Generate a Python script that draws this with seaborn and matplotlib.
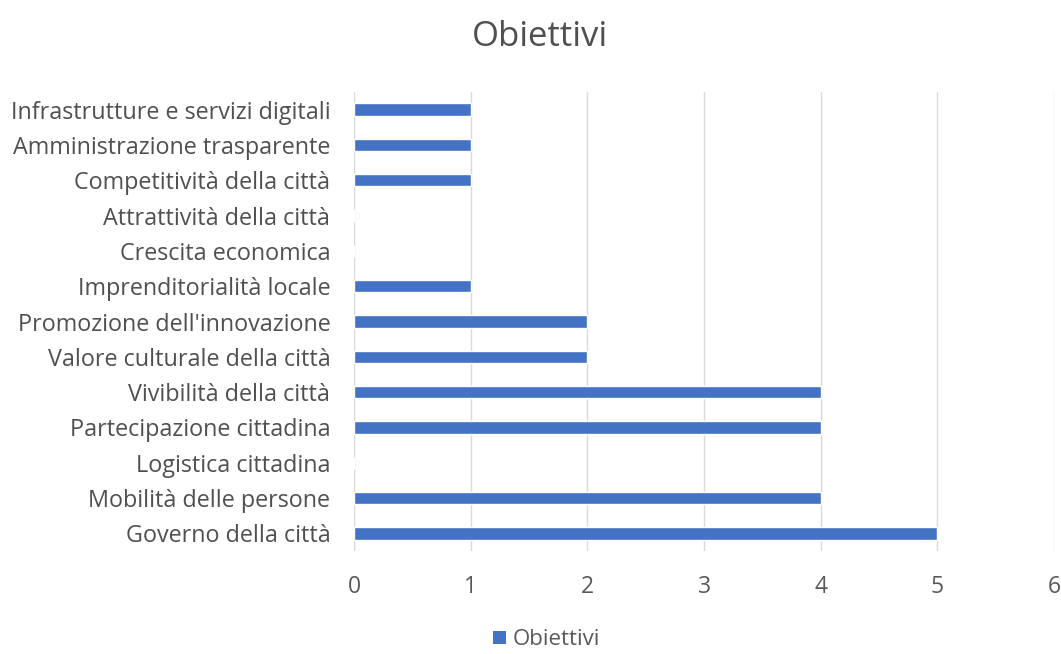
import matplotlib
matplotlib.use("Agg")
import matplotlib.pyplot as plt
import seaborn as sns
import pandas as pd
from matplotlib.patches import Patch

categories = [
    "Infrastrutture e servizi digitali",
    "Amministrazione trasparente",
    "Competitività della città",
    "Attrattività della città",
    "Crescita economica",
    "Imprenditorialità locale",
    "Promozione dell'innovazione",
    "Valore culturale della città",
    "Vivibilità della città",
    "Partecipazione cittadina",
    "Logistica cittadina",
    "Mobilità delle persone",
    "Governo della città",
]
values = [1, 1, 1, 0, 0, 1, 2, 2, 4, 4, 0, 4, 5]
xticks = [0, 1, 2, 3, 4, 5, 6]
series_name = "Obiettivi"

sns.set_theme(style="white")
plt.rcParams['font.family'] = ['Open Sans', 'DejaVu Sans']

df = pd.DataFrame({"cat": categories, "val": values})

fig = plt.figure(figsize=(10.61, 6.54), dpi=100)
ax = fig.add_axes([0.3336, 0.1575, 0.66, 0.7018])
color = "#4472C4"
sns.barplot(data=df, x="val", y="cat", order=categories, color=color,
            width=0.35, ax=ax, saturation=1)

ax.set_xlim(0, 6)
ax.set_ylim(12.5, -0.5)
ax.set_xticks(xticks)
ax.grid(axis="x", color="#D9D9D9", linewidth=1)
ax.set_axisbelow(True)
for s in ax.spines.values():
    s.set_visible(False)
ax.set_xlabel("")
ax.set_ylabel("")
ax.tick_params(axis="x", length=0, pad=17, labelsize=16.5, labelcolor="#595959")
ax.tick_params(axis="y", length=0, pad=17, labelsize=16.8, labelcolor="#505050")

fig.suptitle(series_name, x=0.509, y=0.97, fontsize=25, color="#505050")

handles = [Patch(facecolor=color, edgecolor="none", label=series_name)]
fig.legend(handles=handles, loc="center", bbox_to_anchor=(0.515, 0.022),
           frameon=False, fontsize=16, labelcolor="#595959",
           handlelength=0.55, handleheight=0.55, handletextpad=0.3,
           borderpad=0.1)

fig.savefig("out.png", dpi=100)
